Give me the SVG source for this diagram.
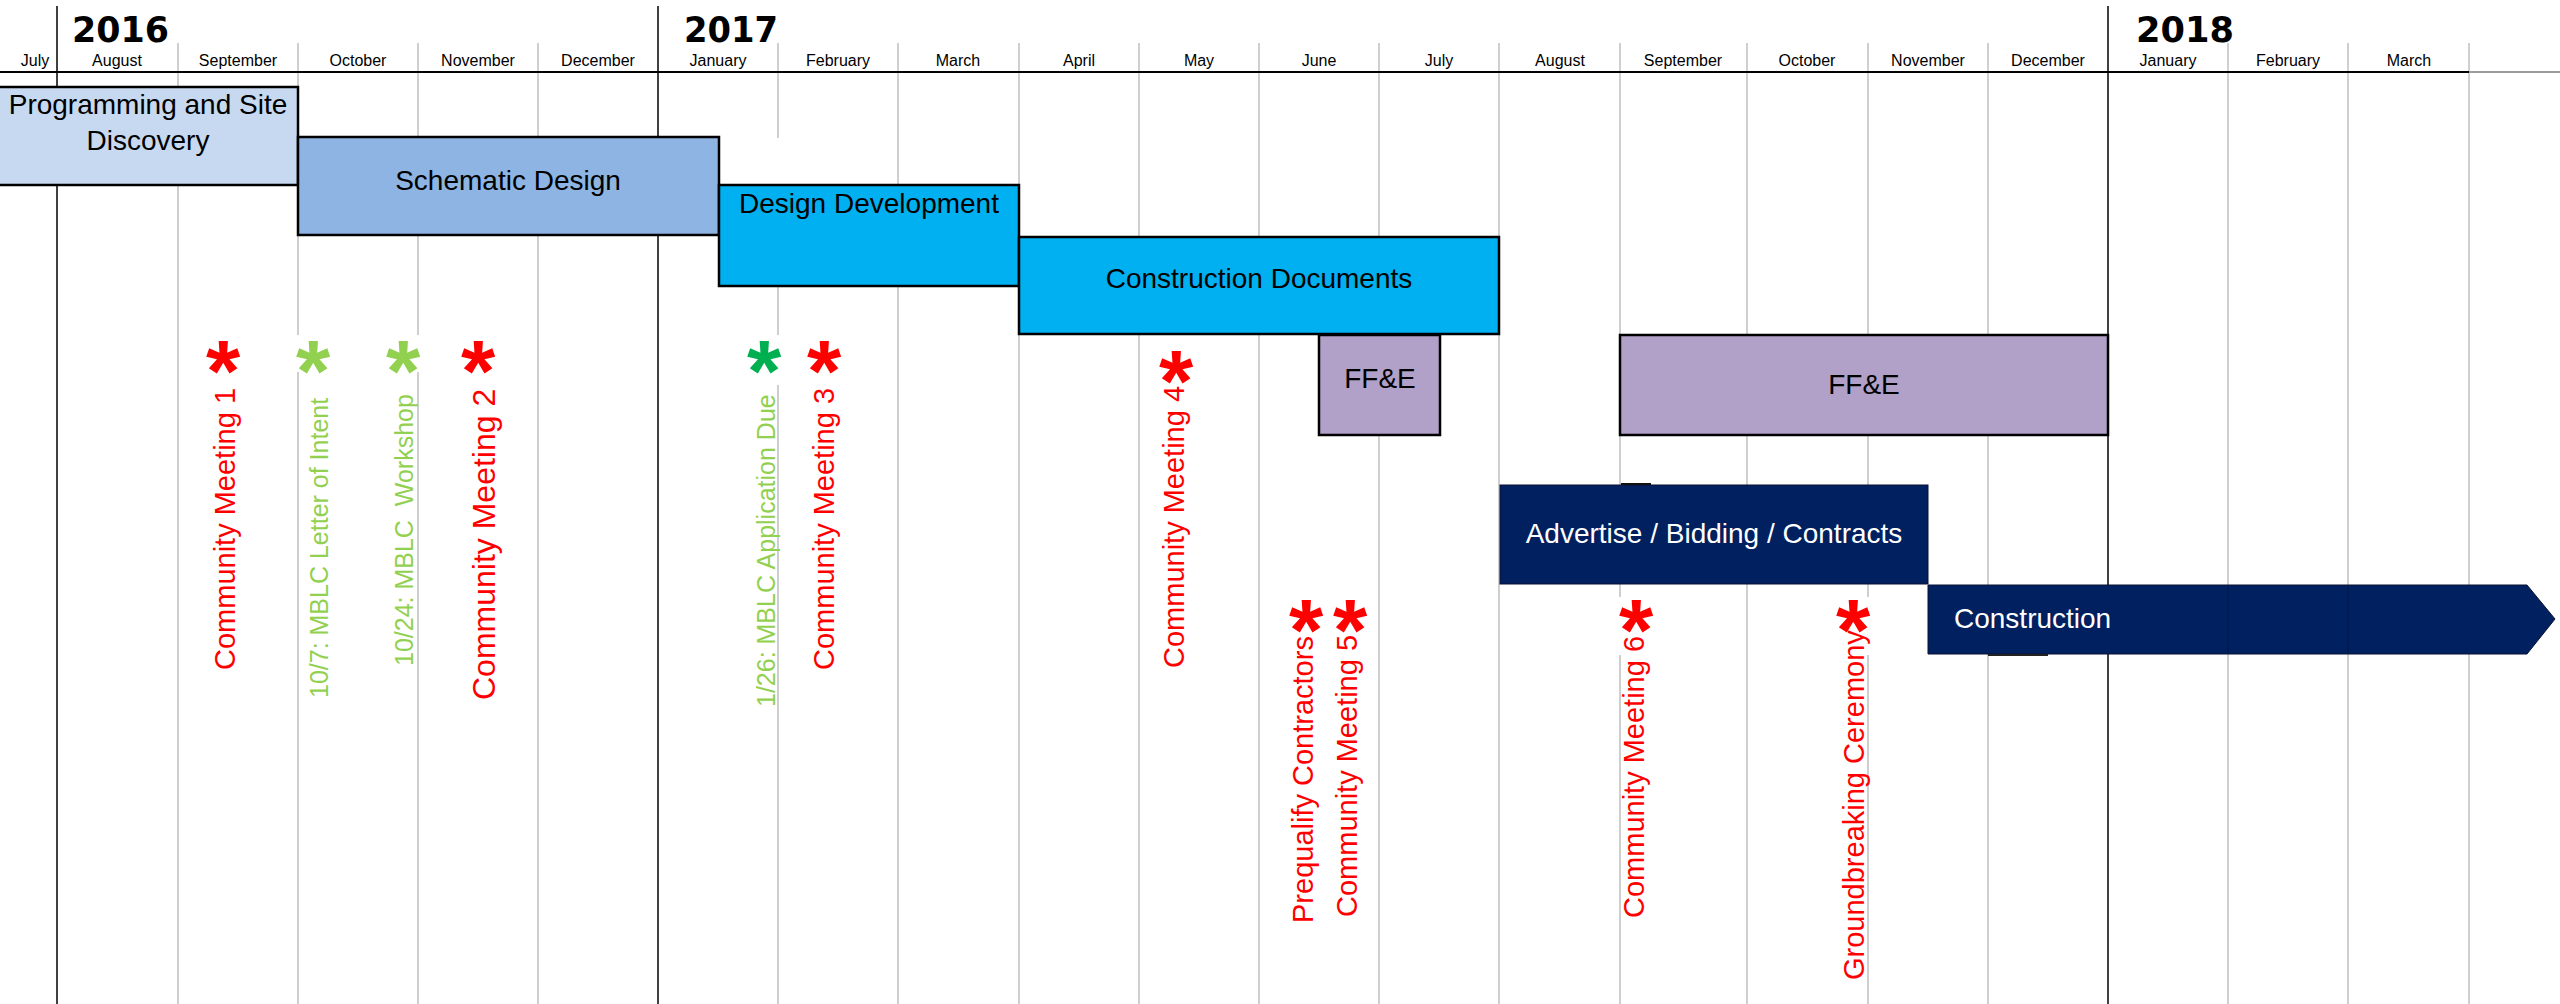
<svg xmlns="http://www.w3.org/2000/svg" width="2560" height="1004" viewBox="0 0 2560 1004">
<style>
.grid{stroke:#BFBFBF;stroke-width:1.5}
.year{stroke:#404040;stroke-width:2}
.bar{stroke:#000;stroke-width:2.5}
.nav{stroke:#0b1030;stroke-width:1}
.lbl{font-family:"Liberation Sans",Arial,sans-serif;font-size:28px;fill:#000;text-anchor:middle}
.wht{fill:#fff}
.mon{font-family:"Liberation Sans",Arial,sans-serif;font-size:16px;fill:#000;text-anchor:middle}
.yr{font-family:"DejaVu Sans",sans-serif;font-weight:bold;font-size:36px;fill:#000}
.ast{font-family:"Liberation Sans",Arial,sans-serif;font-weight:bold;font-size:88px;text-anchor:middle}
.rot{font-family:"Liberation Sans",Arial,sans-serif}
.red{fill:#FF0000}
.lg{fill:#92D050}
.dg{fill:#00B050}
</style>
<rect x="0" y="0" width="2560" height="1004" fill="#fff"/>
<g id="grid">
<g class="grid">
<line x1="178" y1="43" x2="178" y2="1004"/>
<line x1="298" y1="43" x2="298" y2="1004"/>
<line x1="418" y1="43" x2="418" y2="1004"/>
<line x1="538" y1="43" x2="538" y2="1004"/>
<line x1="778" y1="43" x2="778" y2="1004"/>
<line x1="898" y1="43" x2="898" y2="1004"/>
<line x1="1019" y1="43" x2="1019" y2="1004"/>
<line x1="1139" y1="43" x2="1139" y2="1004"/>
<line x1="1259" y1="43" x2="1259" y2="1004"/>
<line x1="1379" y1="43" x2="1379" y2="1004"/>
<line x1="1499" y1="43" x2="1499" y2="1004"/>
<line x1="1620" y1="43" x2="1620" y2="1004"/>
<line x1="1747" y1="43" x2="1747" y2="1004"/>
<line x1="1868" y1="43" x2="1868" y2="1004"/>
<line x1="1988" y1="43" x2="1988" y2="1004"/>
<line x1="2228" y1="43" x2="2228" y2="1004"/>
<line x1="2348" y1="43" x2="2348" y2="1004"/>
<line x1="2469" y1="43" x2="2469" y2="1004"/>
</g>
<g class="year">
<line x1="57" y1="6" x2="57" y2="1004"/>
<line x1="658" y1="6" x2="658" y2="1004"/>
<line x1="2108" y1="6" x2="2108" y2="1004"/>
</g>
<line x1="0" y1="72" x2="2469" y2="72" stroke="#000" stroke-width="2"/>
<line x1="2469" y1="72" x2="2560" y2="72" stroke="#9a9a9a" stroke-width="2"/>
<g fill="#fff">
<rect x="770" y="138" width="16" height="46"/>
<rect x="290" y="335" width="16" height="37"/>
<rect x="410" y="335" width="16" height="37"/>
<rect x="770" y="335" width="16" height="50"/>
<rect x="1612" y="597" width="16" height="58"/>
<rect x="1860" y="597" width="16" height="58"/>
</g>
</g>
<g id="header">
<text class="yr" x="72" y="42" textLength="97" lengthAdjust="spacingAndGlyphs">2016</text>
<text class="yr" x="684" y="42" textLength="94" lengthAdjust="spacingAndGlyphs">2017</text>
<text class="yr" x="2136" y="42" textLength="98" lengthAdjust="spacingAndGlyphs">2018</text>
<text class="mon" x="35" y="66">July</text>
<text class="mon" x="117" y="66">August</text>
<text class="mon" x="238" y="66">September</text>
<text class="mon" x="358" y="66">October</text>
<text class="mon" x="478" y="66">November</text>
<text class="mon" x="598" y="66">December</text>
<text class="mon" x="718" y="66">January</text>
<text class="mon" x="838" y="66">February</text>
<text class="mon" x="958" y="66">March</text>
<text class="mon" x="1079" y="66">April</text>
<text class="mon" x="1199" y="66">May</text>
<text class="mon" x="1319" y="66">June</text>
<text class="mon" x="1439" y="66">July</text>
<text class="mon" x="1560" y="66">August</text>
<text class="mon" x="1683" y="66">September</text>
<text class="mon" x="1807" y="66">October</text>
<text class="mon" x="1928" y="66">November</text>
<text class="mon" x="2048" y="66">December</text>
<text class="mon" x="2168" y="66">January</text>
<text class="mon" x="2288" y="66">February</text>
<text class="mon" x="2409" y="66">March</text>
</g>
<g id="connectors"></g>
<g id="programming">
<rect class="bar" x="-3" y="87" width="301" height="98" fill="#C6D9F1"/>
<text class="lbl" x="148" y="114">Programming and Site</text>
<text class="lbl" x="148" y="150">Discovery</text>
</g>
<g id="schematic">
<rect class="bar" x="298" y="137" width="421" height="98" fill="#8DB4E2"/>
<text class="lbl" x="508" y="190">Schematic Design</text>
</g>
<g id="design-development">
<rect class="bar" x="719" y="185" width="300" height="101" fill="#00B0F0"/>
<text class="lbl" x="869" y="213">Design Development</text>
</g>
<g id="construction-documents">
<rect class="bar" x="1019" y="237" width="480" height="97" fill="#00B0F0"/>
<text class="lbl" x="1259" y="288">Construction Documents</text>
</g>
<g id="ffe-1">
<rect class="bar" x="1319" y="335" width="121" height="100" fill="#B1A0C7"/>
<text class="lbl" x="1380" y="388">FF&amp;E</text>
</g>
<g id="ffe-2">
<rect class="bar" x="1620" y="335" width="488" height="100" fill="#B1A0C7"/>
<text class="lbl" x="1864" y="394">FF&amp;E</text>
</g>
<g id="advertise">
<rect class="nav" x="1500" y="485" width="428" height="99" fill="#002060"/>
<rect x="1621" y="483" width="30" height="2" fill="#111"/>
<text class="lbl wht" x="1714" y="543">Advertise / Bidding / Contracts</text>
</g>
<g id="construction">
<polygon class="nav" points="1928,585 2527,585 2555,619 2527,654 1928,654" fill="#002060"/>
<line x1="2228" y1="585" x2="2228" y2="654" stroke="#001a4d" stroke-width="1.5"/>
<line x1="2348" y1="585" x2="2348" y2="654" stroke="#001a4d" stroke-width="1.5"/>
<rect x="1988" y="654" width="60" height="2" fill="#222"/>
<text class="lbl wht" x="1954" y="628" style="text-anchor:start">Construction</text>
</g>
<g id="milestones">
<g id="m-cm1"><text class="ast red" x="223" y="401">*</text><text class="rot red" font-size="29" transform="translate(235,670) rotate(-90)">Community Meeting 1</text></g>
<g id="m-loi"><text class="ast lg" x="313" y="401">*</text><text class="rot lg" font-size="25" transform="translate(328,698) rotate(-90)">10/7: MBLC Letter of Intent</text></g>
<g id="m-workshop"><text class="ast lg" x="403" y="401">*</text><text class="rot lg" font-size="25" transform="translate(413,666) rotate(-90)" style="white-space:pre">10/24: MBLC  Workshop</text></g>
<g id="m-cm2"><text class="ast red" x="478" y="401">*</text><text class="rot red" font-size="32" transform="translate(495,700) rotate(-90)">Community Meeting 2</text></g>
<g id="m-app"><text class="ast dg" x="764" y="401">*</text><text class="rot lg" font-size="25" transform="translate(775,707) rotate(-90)">1/26: MBLC Application Due</text></g>
<g id="m-cm3"><text class="ast red" x="824" y="401">*</text><text class="rot red" font-size="29" transform="translate(834,670) rotate(-90)">Community Meeting 3</text></g>
<g id="m-cm4"><text class="ast red" x="1176" y="411">*</text><text class="rot red" font-size="29" transform="translate(1184,668) rotate(-90)">Community Meeting 4</text></g>
<g id="m-preq"><text class="ast red" x="1306" y="660">*</text><text class="rot red" font-size="29" transform="translate(1313,923) rotate(-90)">Prequalify Contractors</text></g>
<g id="m-cm5"><text class="ast red" x="1350" y="660">*</text><text class="rot red" font-size="29" transform="translate(1357,917) rotate(-90)">Community Meeting 5</text></g>
<g id="m-cm6"><text class="ast red" x="1636" y="660">*</text><text class="rot red" font-size="29" transform="translate(1644,918) rotate(-90)">Community Meeting 6</text></g>
<g id="m-ground"><text class="ast red" x="1853" y="660">*</text><text class="rot red" font-size="29" transform="translate(1864,980) rotate(-90)">Groundbreaking Ceremony</text></g>
</g>
</svg>
